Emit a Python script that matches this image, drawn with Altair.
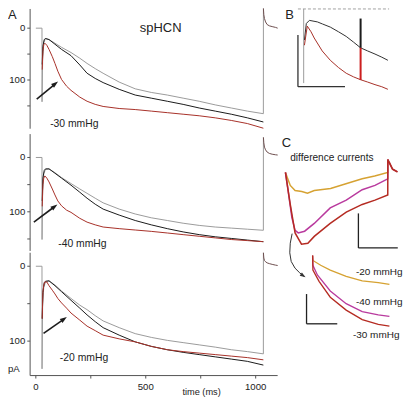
import altair as alt
import pandas as pd

# ----------------------------------------------------------------- data ---
# Panel A (three pressures): time in ms, current in pA (inward drawn downward)
tA_gray = [0, 28, 28.2, 31, 36, 44, 60, 87, 117, 160, 200, 233, 270, 306, 379,
           452, 525, 598, 670, 743, 816, 889, 962, 1035, 1035.2]
tA_blk = [29, 32, 38, 44, 60, 87, 117, 160, 200, 233, 270, 306, 379, 452, 525,
          598, 670, 743, 816, 889, 962, 1035]
tA_red = [29, 32, 36, 41, 50, 60, 75, 87, 100, 117, 140, 160, 200, 233, 270, 306,
          379, 452, 525, 598, 670, 743, 816, 889, 962, 1035]
tA_tail = [1035.2, 1037, 1040, 1045, 1052, 1062, 1075, 1090, 1100]

a30_gray = [0, 0, 142, 60, 28, 20, 22, 29, 37, 47, 58, 68, 78, 87, 104, 117, 124,
            129, 135, 141, 148, 154, 160, 165, -38]
a30_blk = [70, 35, 22, 20, 22, 31, 41, 53, 71, 87, 97, 105, 118, 129, 135, 141,
           147, 154, 160, 166, 173, 181]
a30_red = [80, 45, 32, 29, 33, 41, 55, 68, 83, 99, 112, 120, 133, 141, 147, 151,
           155, 157, 160, 163, 166, 169, 173, 178, 184, 193]
a30_tail = [-38, -26, -18.5, -12, -7, -4.5, -3, -1.5, 0]

a40_gray = [0, 0, 151, 60, 30, 22, 21, 28, 37, 48, 58, 66, 75, 83.5, 95, 104, 111,
            116, 121, 125, 128, 130, 132, 134, -37]
a40_blk = [80, 38, 24, 21, 21, 29, 38, 51, 64, 75, 86, 95, 106, 116, 124, 131, 137,
           142, 146, 149, 152, 155]
a40_red = [90, 50, 38, 34, 38, 45, 58, 69, 80, 89, 97, 101, 112, 119, 124, 128, 131,
           133.5, 136, 139, 142, 145, 148, 151, 153, 155]
a40_tail = [-37, -27, -19, -14, -10, -7.5, -6, -5, -4.5]

a20_gray = [0, 0, 137, 50, 28, 21, 19.5, 25, 33, 43, 52, 58, 66, 73, 82, 90, 95, 99,
            102, 105, 108, 111.5, 114, 117, -18]
a20_blk = [70, 35, 22, 20, 19.5, 26, 34, 45.5, 56, 65, 74, 82, 92, 101, 107, 111.5,
           115, 118, 121, 124, 127, 132]
a20_red = [70, 35, 25, 21, 21, 26, 32, 37, 43, 49, 56, 62.5, 72, 80, 86, 92, 97, 101,
           107, 111.5, 114, 116, 118, 120, 122, 125]
a20_tail = [-18, -11, -7.7, -6, -4.5, -3.5, -2.5, -1.5, -1]

yticks_A = [0, 50, 100, 150]
yticks_A3 = [0, 50, 100]
ylabels_A = [0, 100]
xticks_A = [0, 250, 500, 750, 1000]
xlabels_A = [0, 500, 1000]

# Panel B: control (black) and -30 mmHg (red), ms / pA
b_t_blk = [8, 28, 61, 146, 200, 283, 370, 452, 530, 605, 680, 758, 830, 895]
b_blk = [60, 28, 22, 25, 29, 35, 44, 53, 64, 75, 81, 87, 93, 99]
b_t_red = [8, 38, 78, 112, 197, 283, 370, 452, 530, 605, 680, 758, 830, 895]
b_red = [70, 33, 44, 56, 81, 99, 113, 124, 131, 136.5, 141, 146, 150, 155]
b_step = [0, 143]
b_bar_t = 605
b_bar_blk = [18.5, 75]
b_bar_red = [75, 137]

# Panel C upper: difference currents (ms / pA)
cy_t = [0, 49, 98, 166, 224, 293, 459, 615, 780, 907, 1040]
cy_v = [0, 15, 21, 22, 24, 21, 18.5, 13, 7.4, 4, 0]
cm_t = [0, 33, 65, 98, 130, 195, 293, 455, 618, 780, 910, 1040]
cm_v = [0, 26, 52, 67, 70, 68, 59, 41, 32, 20, 15, 7.4]
cr_t = [0, 49, 98, 163, 228, 293, 455, 618, 780, 910, 1040]
cr_v = [0, 37, 70, 83, 82, 74, 59, 46, 37, 32, 26]
c_tail_t = [1040.5, 1057, 1089, 1138]
c_tail_v = [-15, -11, -3.7, -0.7]

# Panel C lower: scaled difference currents
ly_t = [0, 4, 105, 230, 437, 646, 855, 1000]
ly_v = [-4, 2.6, 9, 15.5, 24, 30, 32.3, 34.8]
lm_t = [0, 4, 62, 230, 437, 646, 855, 1000]
lm_v = [-4, 9, 22, 43.5, 60.6, 71.4, 75.7, 77.8]
lr_t = [0, 4, 84, 230, 437, 646, 855, 1000]
lr_v = [-4, 15.5, 30.6, 52, 69.3, 82, 88.6, 90.7]

# --------------------------------------------------------------- layout ---
S = 0.96


def PX(x):
    return (x - 1) * S


def PY(y):
    return (y - 2) * S


def lin(d, r):
    return alt.Scale(domain=list(d), range=list(r), nice=False, zero=False)


GRAY = "#9c9c9c"
BLACK = "#1c1c1c"
RED = "#a8322a"
AXC = "#555555"
TXT = "#222222"
FONT = "Liberation Sans"
YEL = "#d6a232"
MAG = "#b93a9e"
CRED = "#b52b22"
ARROW_PATH = "M0,0L0.75,2.2L-0.75,2.2Z"


def enc(xs, ys, x="t", y="v"):
    return dict(x=alt.X(f"{x}:Q", scale=xs, axis=None),
                y=alt.Y(f"{y}:Q", scale=ys, axis=None))


def line(t, v, color, xs, ys, width=1.0, dash=None):
    df = pd.DataFrame({"t": t, "v": v, "i": list(range(len(t)))})
    kw = dict(color=color, strokeWidth=width)
    if dash:
        kw["strokeDash"] = dash
    return alt.Chart(df).mark_line(**kw).encode(order="i:Q", **enc(xs, ys))


def rules(x1, x2, y1, y2, color, xs, ys, width=1.0, dash=None):
    df = pd.DataFrame({"x1": x1, "x2": x2, "y1": y1, "y2": y2})
    kw = dict(color=color, strokeWidth=width)
    if dash:
        kw["strokeDash"] = dash
    return alt.Chart(df).mark_rule(**kw).encode(
        x=alt.X("x1:Q", scale=xs, axis=None), x2="x2:Q",
        y=alt.Y("y1:Q", scale=ys, axis=None), y2="y2:Q")


def texts(t, v, s, xs, ys, size, align="left", color=TXT):
    df = pd.DataFrame({"t": t, "v": v, "s": s})
    return alt.Chart(df).mark_text(align=align, baseline="middle", font=FONT,
                                   fontSize=size, color=color).encode(
        text="s:N", **enc(xs, ys))


def head(t, v, angle, xs, ys, size=40, color=BLACK):
    df = pd.DataFrame({"t": [t], "v": [v]})
    return alt.Chart(df).mark_point(shape=ARROW_PATH, filled=True, opacity=1,
                                    color=color, size=size, angle=angle,
                                    strokeWidth=0).encode(**enc(xs, ys))


xA = lin([0, 1000], [PX(30), PX(259)])
AX_T = -26
TICK = 13


def panelA(gray, blk, red, tail, ys, yspan, yt, label, lab_pos, arrow, extra):
    layers = [
        rules([AX_T], [AX_T], [yspan[0]], [yspan[1]], AXC, xA, ys),
        rules([AX_T] * len(yt), [AX_T - TICK] * len(yt), yt, yt, AXC, xA, ys),
        texts([-48] * len(ylabels_A), ylabels_A, [str(v) for v in ylabels_A],
              xA, ys, 10 * S, align="right"),
        line(tA_gray, gray, GRAY, xA, ys),
        line(tA_blk, blk, BLACK, xA, ys),
        line(tA_red, red, RED, xA, ys),
        line(tA_tail, tail, "#6e4f4f", xA, ys),
        texts([lab_pos[0]], [lab_pos[1]], [label], xA, ys, 10.8 * S),
        rules([arrow[0]], [arrow[2] - (arrow[2] - arrow[0]) * 0.2],
              [arrow[1]], [arrow[3] - (arrow[3] - arrow[1]) * 0.2],
              BLACK, xA, ys, width=1.6),
        head(arrow[2], arrow[3], arrow[4], xA, ys),
    ]
    layers += extra
    return alt.layer(*layers)


yA1 = lin([0, 100], [PY(23), PY(77)])
yA2 = lin([0, 100], [PY(157.7), PY(214.3)])
yA3 = lin([0, 100], [PY(271), PY(349)])

pA1 = panelA(a30_gray, a30_blk, a30_red, a30_tail, yA1, [-37, 194], yticks_A,
             "-30 mmHg", (65, 185), (4, 137, 101, 103, 52),
             [texts([-107], [-25], ["A"], xA, yA1, 13.5 * S, align="center"),
              texts([568], [0], ["spHCN"], xA, yA1, 13.5 * S, align="center")])
pA2 = panelA(a40_gray, a40_blk, a40_red, a40_tail, yA2, [-43, 172], yticks_A,
             "-40 mmHg", (102, 160), (-9, 119, 98, 86.5, 53), [])
pA3 = panelA(a20_gray, a20_blk, a20_red, a20_tail, yA3, [-18, 146], yticks_A3,
             "-20 mmHg", (109, 122.7), (35, 89.7, 141, 67.8, 55),
             [rules([AX_T], [1100], [146], [146], AXC, xA, yA3),
              rules(xticks_A, xticks_A, [146] * 5, [150] * 5, AXC, xA, yA3),
              texts(xlabels_A, [161] * 3, [str(v) for v in xlabels_A], xA, yA3,
                    10 * S, align="center"),
              texts([754], [167.6], ["time (ms)"], xA, yA3, 9.6 * S,
                    align="center"),
              texts([-100], [137], ["pA"], xA, yA3, 10 * S, align="center")])

# Panel B
xB = lin([0, 1000], [PX(309), PX(407)])
yB = lin([0, 100], [PY(3), PY(57)])
pB = alt.layer(
    rules([-61], [908], [0], [0], "#8a8a8a", xB, yB, width=0.8, dash=[3, 2]),
    rules([0], [0], [b_step[0]], [b_step[1]], GRAY, xB, yB),
    line(b_t_blk, b_blk, "#333333", xB, yB),
    line(b_t_red, b_red, RED, xB, yB),
    rules([b_bar_t], [b_bar_t], [b_bar_blk[0]], [b_bar_blk[1]], BLACK, xB, yB, width=2),
    rules([b_bar_t], [b_bar_t], [b_bar_red[0]], [b_bar_red[1]], "#cc1f1f", xB, yB, width=2),
    rules([-61, -61], [-61, 439], [50, 150], [150, 150], "#333333", xB, yB, width=1.3),
    texts([-150], [11], ["B"], xB, yB, 13.5 * S, align="center"),
)

# Panel C upper
xC = lin([0, 1000], [PX(290), PX(392.5)])
yC = lin([0, 100], [PY(173.3), PY(263.3)])
pC = alt.layer(
    line(cy_t + c_tail_t, cy_v + c_tail_v, YEL, xC, yC, width=1.5),
    line(cm_t + c_tail_t, cm_v + c_tail_v, MAG, xC, yC, width=1.5),
    line(cr_t + c_tail_t, cr_v + c_tail_v, CRED, xC, yC, width=1.5),
    rules([741.5, 741.5], [741.5, 1141.5], [47.4, 87.4], [87.4, 87.4], "#222222",
          xC, yC, width=1.3),
    texts([10], [-34.2], ["C"], xC, yC, 13.5 * S, align="center"),
    texts([49], [-16.7], ["difference currents"], xC, yC, 10.5 * S),
    line([68, 49, 44, 58.5, 97.6, 146, 190], [70.8, 81.9, 93, 103, 110.8, 116.3, 120.3],
         "#333333", xC, yC, width=1.0),
    head(205, 121.4, 124, xC, yC, size=28, color="#333333"),
)

# Panel C lower
xL = lin([0, 1000], [PX(318.3), PX(398.3)])
yL = lin([0, 100], [PY(263), PY(340.5)])
pL = alt.layer(
    line(ly_t, ly_v, YEL, xL, yL, width=1.3),
    line(lm_t, lm_v, MAG, xL, yL, width=1.3),
    line(lr_t, lr_v, CRED, xL, yL, width=1.3),
    rules([-79, -79], [-79, 321], [47.7, 87.7], [87.7, 87.7], "#222222", xL, yL,
          width=1.3),
    texts([565, 565, 525], [17.7, 58.5, 102.8], ["-20 mmHg", "-40 mmHg", "-30 mmHg"],
          xL, yL, 10.4 * S),
)

chart = alt.layer(pA1, pA2, pA3, pB, pC, pL).resolve_scale(
    x="independent", y="independent"
).properties(width=398, height=390, padding=0, autosize="none",
             background="white").configure_view(strokeWidth=0)

chart.save("out.html", embed_options={"renderer": "svg", "actions": False})
